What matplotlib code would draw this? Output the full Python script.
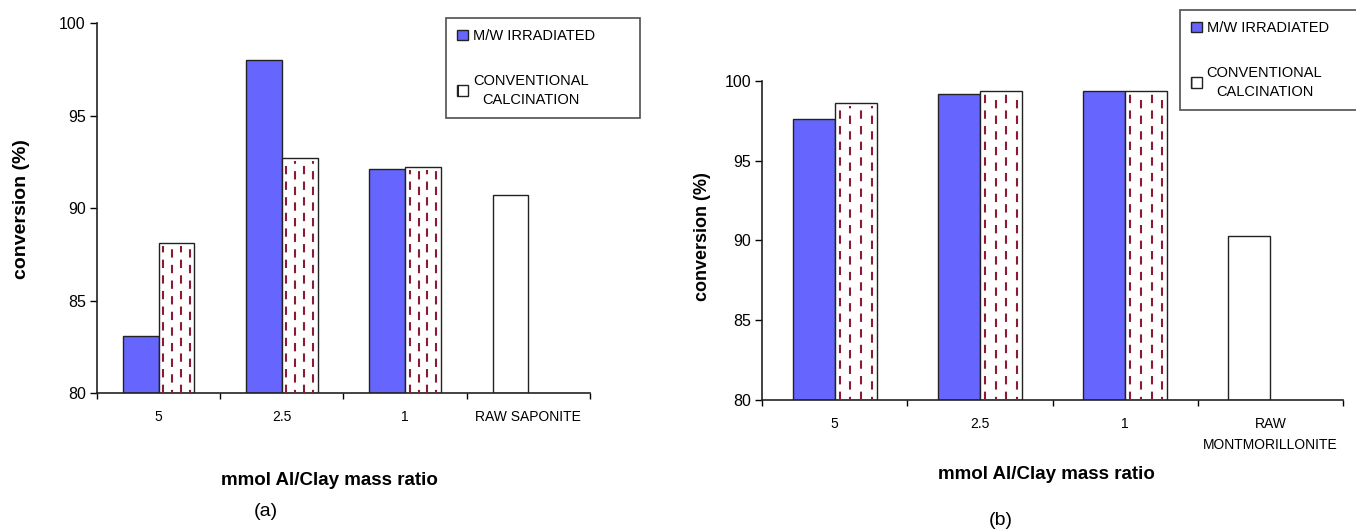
import matplotlib
matplotlib.use("Agg")
import matplotlib.pyplot as plt
from matplotlib.patches import Patch

plt.rcParams["font.family"] = ["Liberation Sans", "DejaVu Sans"]

# panel (a): saponite
labels_a = ["5", "2.5", "1", "RAW SAPONITE"]
mw_a = [83.1, 98.0, 92.1]
conv_a = [88.1, 92.7, 92.2]
raw_a = 90.7

# panel (b): montmorillonite
labels_b = ["5", "2.5", "1", "RAW\nMONTMORILLONITE"]
mw_b = [97.6, 99.2, 99.4]
conv_b = [98.6, 99.4, 99.4]
raw_b = 90.3

yticks = [80, 85, 90, 95, 100]

BLUE = "#6666FF"
DOTRED = "#8B1A33"
WIDTH = 0.29


def draw_panel(ax, labels, mw, conv, raw):
    n = len(mw)
    xs = list(range(n))
    ax.bar([x - WIDTH / 2 for x in xs], [v - 80 for v in mw], WIDTH, bottom=80,
           color=BLUE, edgecolor="#222222", linewidth=1.0, zorder=2)
    bars = ax.bar([x + WIDTH / 2 for x in xs], [v - 80 for v in conv], WIDTH, bottom=80,
                  color="white", edgecolor="#222222", linewidth=1.0, zorder=2)
    ax.bar([n - WIDTH / 2], [raw - 80], WIDTH, bottom=80,
           color="white", edgecolor="#222222", linewidth=1.0, zorder=2)

    # dashed vertical pattern inside the conventional bars
    for rect in bars:
        x0, w, top = rect.get_x(), rect.get_width(), rect.get_y() + rect.get_height()
        for k in range(4):
            xk = x0 + w * (k + 0.5) / 4
            ax.plot([xk, xk], [80, top - 0.15], color=DOTRED, lw=1.5,
                    linestyle=(2.5 * (k % 2), (4, 3.5)), zorder=3, solid_capstyle="butt")

    ax.set_xlim(-0.5, n + 0.5)
    ax.set_ylim(80, 100)
    ax.set_yticks(yticks)
    ax.set_yticklabels([str(t) for t in yticks], fontsize=11.5)
    ax.tick_params(axis="y", direction="out", length=5, width=1, pad=3)

    ax.set_xticks([i - 0.5 for i in range(n + 2)])
    ax.set_xticklabels([])
    ax.tick_params(axis="x", which="major", direction="out", length=4, width=1)
    ax.set_xticks(range(n + 1), minor=True)
    ax.set_xticklabels(labels, minor=True, fontsize=10, linespacing=1.7)
    ax.tick_params(axis="x", which="minor", length=0, pad=12)

    for side in ("top", "right"):
        ax.spines[side].set_visible(False)
    for side in ("left", "bottom"):
        ax.spines[side].set_linewidth(1.2)
        ax.spines[side].set_color("#222222")


fig = plt.figure(figsize=(13.56, 5.30), dpi=100)
ax_a = fig.add_axes([0.0715, 0.2585, 0.3636, 0.698])
ax_b = fig.add_axes([0.562, 0.2453, 0.4285, 0.602])

draw_panel(ax_a, labels_a, mw_a, conv_a, raw_a)
draw_panel(ax_b, labels_b, mw_b, conv_b, raw_b)

for lab in ax_b.get_xticklabels(minor=True):
    lab.set_multialignment("center")

fig.text(0.016, 0.605, "conversion (%)", rotation=90, fontsize=14,
         fontweight="bold", ha="center", va="center")
fig.text(0.518, 0.553, "conversion (%)", rotation=90, fontsize=13,
         fontweight="bold", ha="center", va="center")
fig.text(0.243, 0.094, "mmol Al/Clay mass ratio", fontsize=13.5, fontweight="bold",
         ha="center", va="center")
fig.text(0.772, 0.104, "mmol Al/Clay mass ratio", fontsize=13.5, fontweight="bold",
         ha="center", va="center")
fig.text(0.196, 0.035, "(a)", fontsize=14, ha="center", va="center")
fig.text(0.738, 0.018, "(b)", fontsize=14, ha="center", va="center")

plt.rcParams["hatch.color"] = DOTRED
handles = [
    Patch(facecolor=BLUE, edgecolor="#222222", linewidth=1.0),
    Patch(facecolor="white", edgecolor="#222222", linewidth=1.0, hatch="|"),
]
names = ["M/W IRRADIATED", "CONVENTIONAL\nCALCINATION"]
for anchor in [(0.329, 0.760, 0.143, 0.206), (0.870, 0.777, 0.145, 0.204)]:
    leg = fig.legend(handles, names, loc="upper left", bbox_to_anchor=anchor,
                     mode="expand", fontsize=10.5, frameon=True, fancybox=False,
                     edgecolor="#222222", handlelength=0.75, handleheight=0.75,
                     handletextpad=0.35, labelspacing=2.1, borderpad=0.75,
                     borderaxespad=0)
    leg.get_frame().set_linewidth(1.2)
    for t in leg.get_texts():
        t.set_multialignment("center")
        t.set_linespacing(1.5)

fig.savefig("out.png", dpi=100)
